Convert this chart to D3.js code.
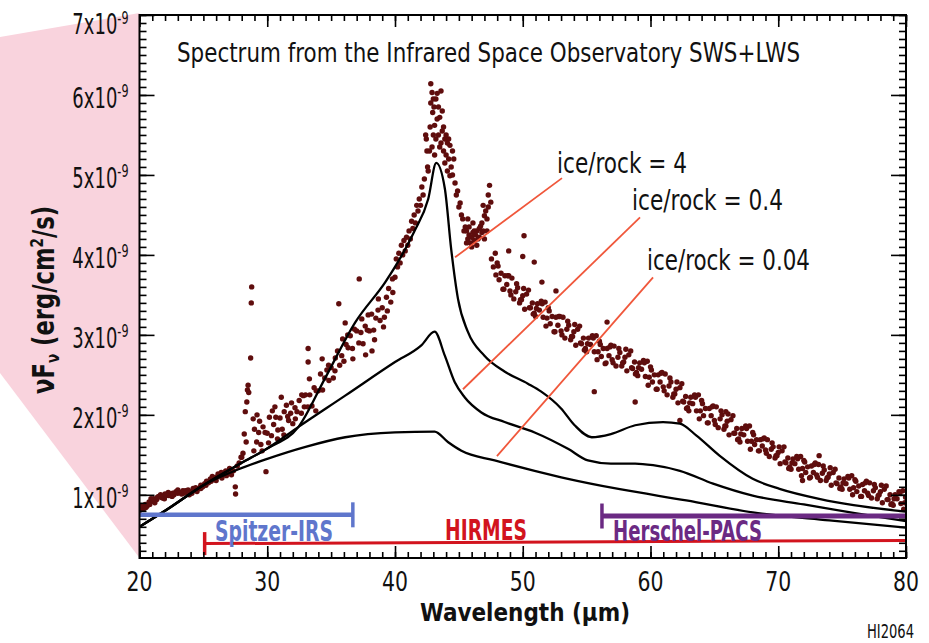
<!DOCTYPE html>
<html><head><meta charset="utf-8">
<script src="https://cdn.jsdelivr.net/npm/d3@7"></script>
<style>body{margin:0;background:#fff}</style>
</head><body>
<svg id="chart" width="929" height="643"></svg>
<script>
// ---------- DATA ----------
const xTickLabels = [20, 30, 40, 50, 60, 70, 80];
const yTickLabels = [1, 2, 3, 4, 5, 6, 7];           // x10^-9
const titleText = "Spectrum from the Infrared Space Observatory SWS+LWS";

// ISO SWS+LWS observed spectrum: [wavelength µm, nuFnu (1e-9 erg/cm2/s)]
const obsShort = [
[20.0,.80],[20.15,.84],[20.3,.82],[20.45,.88],[20.6,.86],[20.75,.91],[20.9,.95],[21.05,.92],[21.2,.90],[21.35,.94],[21.5,.98],[21.65,1.00],[21.8,.96],[21.95,.95],[22.1,.99],[22.25,1.03],[22.4,1.01],[22.55,.98],[22.7,1.00],[22.85,1.04],[23.0,1.06],[23.15,1.03],[23.3,1.01],[23.45,1.02],[23.6,1.05],[23.75,1.03],[23.9,1.00],[24.05,1.04],[24.2,1.08],[24.35,1.06],[24.5,1.04],[24.65,1.08],[24.8,1.12],[24.95,1.10],[25.1,1.14],[25.25,1.17],[25.4,1.15],[25.55,1.20],[25.7,1.23],[25.85,1.19],[26.0,1.22],[26.15,1.26],[26.3,1.24],[26.45,1.21],[26.6,1.27],[26.75,1.30],[26.9,1.27],[27.05,1.33],[27.2,1.25],[27.35,1.30],[27.5,1.10],[27.52,1.01],[27.65,1.36],[27.8,1.40],[27.95,1.47],[28.1,1.52],
[20.1,.86],[20.5,.84],[20.8,.88],[21.1,.95],[21.4,.97],[21.7,.97],[22.0,1.01],[22.3,.99],[22.6,1.02],[23.0,1.02],[23.4,1.05],[23.8,1.06],[24.1,1.02],[24.4,1.09],[24.8,1.08],[25.2,1.12],[25.6,1.17],[26.0,1.18],[26.4,1.28],[26.8,1.24],[27.1,1.29],
[28.0,1.47],[28.2,1.76],[28.28,2.04],[28.35,1.66],[28.4,2.16],[28.45,2.31],[28.5,2.37],[28.55,2.28],[28.7,2.71],[28.75,3.40],[28.78,3.60]
];
const obsRise = [
[29.0,1.82],[29.17,1.66],[29.33,1.78],[29.5,1.63],[29.67,1.85],[29.83,1.78],
[30.0,1.77],[30.17,1.97],[30.33,1.74],[30.5,1.88],[30.67,1.97],[30.83,1.81],
[31.0,1.96],[31.17,1.82],[31.33,2.04],[31.5,2.12],[31.67,1.93],[31.83,2.02],
[32.0,1.89],[32.17,2.09],[32.33,2.04],[32.5,2.18],[32.67,2.02],[32.83,2.24],
[28.9,1.95],[29.2,2.00],[29.6,1.55],[29.9,1.29],[30.1,1.65],[30.4,2.05],[30.8,1.70],[31.1,2.22],[31.3,1.75],[31.6,1.98],[31.9,2.15],[32.2,1.95],[32.7,2.25],[32.9,2.10],[29.4,1.92],[30.6,2.10],[28.95,1.55],
[33.0,2.25],[33.17,2.10],[33.33,2.25],[33.5,2.11],[33.67,2.34],[33.83,2.30],
[34.0,2.30],[34.17,2.51],[34.33,2.31],[34.5,2.46],[34.67,2.56],[34.83,2.43],
[35.0,2.59],[35.17,2.46],[35.33,2.71],[35.5,2.80],[35.67,2.62],[35.83,2.74],
[36.0,2.67],[36.17,2.88],[36.33,2.84],[36.5,2.99],[36.67,2.83],[36.83,3.07],
[37.0,3.05],[37.17,2.90],[37.33,3.03],[37.5,2.89],[37.67,3.11],[37.83,3.06],
[38.0,3.05],[38.17,3.26],[38.33,3.06],[38.5,3.21],[38.67,3.31],[38.83,3.18],
[39.0,3.34],[39.17,3.22],[39.33,3.47],[39.5,3.58],[39.67,3.41],[39.83,3.53],
[33.3,2.45],[33.2,2.66],[33.2,2.83],[34.3,2.70],[33.8,2.05],[34.8,2.62],[35.3,2.55],[35.6,3.39],[35.9,2.95],[36.3,3.00],[36.7,2.70],[37.2,3.70],[37.4,3.20],[37.9,3.25],[38.2,2.80],[38.4,2.94],[38.7,3.45],[39.1,3.10],[39.4,3.30],[39.8,3.70],[36.1,3.15],[37.7,2.75]
];
const obsPeak = [
[40.0,3.72],[40.1,3.95],[40.2,3.85],[40.3,4.02],[40.4,3.90],[40.5,4.12],[40.6,4.00],[40.7,4.18],[40.8,4.05],[40.9,4.22],[41.0,4.12],[41.1,4.30],[41.2,4.20],[41.3,4.42],[41.4,4.33],[41.5,4.50],[41.6,4.40],[41.7,4.62],[41.8,4.55],[41.9,4.70],[42.0,4.62],[42.1,4.85],[42.2,4.75],[42.3,4.95],[42.4,5.50],[42.45,5.45],[42.5,5.30],[42.55,5.10],
[42.6,5.05],[42.7,5.30],[42.75,5.60],[42.8,5.90],[42.8,6.14],[42.9,6.03],[42.95,5.78],[43.0,5.50],[43.05,5.85],[43.1,5.62],[43.2,5.95],[43.3,5.70],[43.4,5.50],[43.5,5.72],[43.6,6.05],[43.6,5.40],[43.7,5.55],[43.8,5.30],[43.9,5.45],[44.0,5.25],[44.1,5.40],[44.2,5.20],[44.3,5.37],[44.4,5.10],[44.5,5.00],[44.6,5.20],[44.7,4.90],[44.8,4.75],[44.9,4.80],[45.0,4.60],[45.1,4.65],[45.2,4.50],[45.3,4.45],[45.5,4.35],[45.6,4.30],[45.7,4.20],[45.8,4.25],[45.9,4.15],[46.0,4.22],[46.1,4.28],[46.2,4.18],[46.3,4.25],[46.4,4.30],[46.5,4.20],[46.6,4.33],[46.7,4.36],[46.8,4.40],[46.9,4.30],[47.0,4.49],[47.1,4.55],[47.2,4.45],[47.3,4.60],[47.4,4.87],[47.5,4.66],
[42.9,5.35],[43.0,5.95],[43.1,5.25],[43.2,5.45],[43.3,6.02],[43.4,5.85],[43.5,5.35],[43.7,5.80],[43.8,5.60],[43.9,5.15],[44.0,5.50],[44.1,5.05],[44.2,5.45],[44.3,4.99],[44.5,5.30],
[45.4,4.30],[45.6,4.15],[45.8,4.35],[46.0,4.10],[46.2,4.30],[46.4,4.12],[46.6,4.22],[46.8,4.28],[47.0,4.20],[47.2,4.30],[46.1,4.40],[45.7,4.45],[46.9,4.62],[47.3,4.75]
];
const obsTail = [
[47.55,3.95],[47.7,3.85],[47.85,4.02],[47.9,3.75],
[48.0,3.90],[48.15,3.69],[48.3,3.77],[48.45,3.57],[48.6,3.74],[48.75,3.63],[48.9,3.74],
[49.0,3.55],[49.15,3.71],[49.3,3.45],[49.45,3.54],[49.6,3.59],[49.75,3.40],[49.9,3.44],
[50.0,3.49],[50.15,3.32],[50.3,3.51],[50.45,3.56],[50.6,3.34],[50.75,3.40],[50.9,3.27],
[51.0,3.23],[51.15,3.39],[51.3,3.31],[51.45,3.42],[51.6,3.22],[51.75,3.41],[51.9,3.21],
[52.0,3.34],[52.15,3.14],[52.3,3.23],[52.45,3.04],[52.6,3.22],[52.75,3.12],[52.9,3.23],
[53.0,3.05],[53.15,3.22],[53.3,2.96],[53.45,3.07],[53.6,3.12],[53.75,2.94],[53.9,2.98],
[54.0,3.04],[54.15,2.87],[54.3,3.07],[54.45,3.11],[54.6,2.89],[54.75,2.96],[54.9,2.83],
[55.0,2.79],[55.15,2.96],[55.3,2.88],[55.45,2.99],[55.6,2.79],[55.75,2.99],[55.9,2.79],
[56.0,2.92],[56.15,2.73],[56.3,2.83],[56.45,2.64],[56.6,2.83],[56.75,2.74],[56.9,2.87],
[57.0,2.69],[57.15,2.86],[57.3,2.61],[57.45,2.72],[57.6,2.78],[57.75,2.61],[57.9,2.66],
[58.0,2.72],[58.15,2.55],[58.3,2.75],[58.45,2.80],[58.6,2.58],[58.75,2.66],[58.9,2.53],
[59.0,2.49],[59.15,2.65],[59.3,2.57],[59.45,2.68],[59.6,2.48],[59.75,2.67],[59.9,2.47],
[60.0,2.60],[60.15,2.41],[60.3,2.50],[60.45,2.32],[60.6,2.50],[60.75,2.41],[60.9,2.53],
[61.0,2.35],[61.15,2.51],[61.3,2.25],[61.45,2.36],[61.6,2.41],[61.75,2.22],[61.9,2.26],
[62.0,2.32],[62.15,2.15],[62.3,2.34],[62.45,2.39],[62.6,2.16],[62.75,2.23],[62.9,2.09],
[63.0,2.05],[63.15,2.22],[63.3,2.14],[63.45,2.25],[63.6,2.05],[63.75,2.25],[63.9,2.05],
[64.0,2.18],[64.15,1.99],[64.3,2.08],[64.45,1.90],[64.6,2.08],[64.75,1.99],[64.9,2.11],
[65.0,1.93],[65.15,2.10],[65.3,1.84],[65.45,1.95],[65.6,2.00],[65.75,1.82],[65.9,1.86],
[66.0,1.92],[66.15,1.75],[66.3,1.94],[66.45,1.99],[66.6,1.77],[66.75,1.83],[66.9,1.70],
[67.0,1.66],[67.15,1.83],[67.3,1.75],[67.45,1.86],[67.6,1.67],[67.75,1.86],[67.9,1.67],
[68.0,1.78],[68.15,1.63],[68.3,1.69],[68.45,1.55],[68.6,1.69],[68.75,1.61],[68.9,1.71],
[69.0,1.56],[69.15,1.69],[69.3,1.48],[69.45,1.57],[69.6,1.60],[69.75,1.46],[69.9,1.49],
[70.0,1.53],[70.15,1.39],[70.3,1.55],[70.45,1.60],[70.6,1.40],[70.75,1.46],[70.9,1.35],
[71.0,1.32],[71.15,1.45],[71.3,1.39],[71.45,1.48],[71.6,1.32],[71.75,1.48],[71.9,1.33],
[72.0,1.43],[72.15,1.28],[72.3,1.35],[72.45,1.21],[72.6,1.36],[72.75,1.28],[72.9,1.40],
[73.0,1.25],[73.15,1.38],[73.3,1.18],[73.45,1.27],[73.6,1.31],[73.75,1.18],[73.9,1.22],
[74.0,1.26],[74.15,1.12],[74.3,1.28],[74.45,1.32],[74.6,1.14],[74.75,1.21],[74.9,1.10],
[75.0,1.07],[75.15,1.20],[75.3,1.14],[75.45,1.23],[75.6,1.07],[75.75,1.24],[75.9,1.09],
[76.0,1.19],[76.15,1.04],[76.3,1.11],[76.45,0.98],[76.6,1.13],[76.75,1.05],[76.9,1.17],
[77.0,1.02],[77.15,1.15],[77.3,0.96],[77.45,1.05],[77.6,1.09],[77.75,0.95],[77.9,1.00],
[78.0,1.04],[78.15,0.90],[78.3,1.07],[78.45,1.11],[78.6,0.94],[78.75,1.00],[78.9,0.89],
[79.0,0.87],[79.15,1.00],[79.3,0.95],[79.45,1.04],[79.6,0.89],[79.75,1.05],[79.9,0.90],[79.97,0.97],
[48.07,3.86],[48.52,3.57],[48.82,3.74],[49.07,3.50],[49.52,3.64],[49.82,3.44],
[50.07,3.58],[50.52,3.34],[50.82,3.26],[51.07,3.33],[51.52,3.39],[51.82,3.11],
[52.07,3.30],[52.52,3.04],[52.82,3.23],[53.07,3.00],[53.52,3.17],[53.82,2.98],
[54.07,3.13],[54.52,2.90],[54.82,2.81],[55.07,2.89],[55.52,2.96],[55.82,2.69],
[56.07,2.88],[56.52,2.65],[56.82,2.85],[57.07,2.65],[57.52,2.83],[57.82,2.65],
[58.07,2.82],[58.52,2.59],[58.82,2.51],[59.07,2.59],[59.52,2.65],[59.82,2.37],
[60.07,2.56],[60.52,2.32],[60.82,2.52],[61.07,2.30],[61.52,2.46],[61.82,2.26],
[62.07,2.41],[62.52,2.17],[62.82,2.08],[63.07,2.15],[63.52,2.22],[63.82,1.95],
[64.07,2.14],[64.52,1.90],[64.82,2.10],[65.07,1.88],[65.52,2.05],[65.82,1.86],
[66.07,2.01],[66.52,1.77],[66.82,1.69],[67.07,1.76],[67.52,1.83],[67.82,1.57],
[68.07,1.75],[68.52,1.55],[68.82,1.70],[69.07,1.52],[69.52,1.65],[69.82,1.49],
[70.07,1.60],[70.52,1.41],[70.82,1.33],[71.07,1.40],[71.52,1.45],[71.82,1.24],
[72.07,1.41],[72.52,1.22],[72.82,1.38],[73.07,1.22],[73.52,1.36],[73.82,1.21],
[74.07,1.34],[74.52,1.15],[74.82,1.08],[75.07,1.15],[75.52,1.21],[75.82,1.00],
[76.07,1.17],[76.52,0.98],[76.82,1.15],[77.07,0.99],[77.52,1.13],[77.82,0.99],
[78.07,1.12],[78.52,0.94],[78.82,0.88],[79.07,0.95],[79.52,1.02],[79.82,0.82],
[50.1,4.24],[50.0,3.98],[50.9,3.91],[51.5,3.66],[56.6,3.16],[55.6,2.29],[58.8,2.16],[62.3,1.93],[65.9,2.04],[73.2,1.49],[71.9,1.18],[48.9,4.05],[52.6,3.55]
];

// Model spectra
const modelIceRock4 = [[20,0.60],[22,0.80],[25,1.12],[28,1.40],[30,1.58],[32.45,1.85],[34.5,2.45],[36.9,3.16],[39.24,3.66],[40,3.85],[41.5,4.29],[42.6,4.70],[43.23,5.15],[43.9,4.83],[44.4,4.07],[44.93,3.45],[45.7,3.04],[47,2.74],[48.6,2.54],[50.4,2.39],[51.45,2.29],[53,2.08],[54.06,1.87],[55.4,1.72],[56.9,1.76],[58.8,1.87],[60.98,1.91],[62.3,1.89],[63.6,1.74],[65.4,1.49],[68,1.20],[70.1,1.075],[73.2,0.95],[75.9,0.87],[80,0.79]];
const modelIceRock04 = [[20,0.60],[22,0.80],[25,1.12],[28,1.40],[30,1.58],[32.45,1.85],[36.1,2.24],[40,2.66],[42.06,2.87],[43.1,3.04],[43.9,2.74],[44.67,2.41],[45.45,2.22],[46.76,2.03],[48.58,1.91],[50.93,1.78],[53.54,1.575],[55.1,1.43],[56.9,1.39],[58.8,1.39],[60.2,1.37],[62.3,1.30],[64.9,1.14],[68,0.99],[72,0.88],[76,0.77],[80,0.67]];
const modelIceRock004 = [[20,0.60],[22,0.80],[25,1.12],[27.75,1.32],[30,1.45],[33,1.60],[36.1,1.72],[40,1.78],[43.1,1.79],[44.14,1.66],[45.2,1.55],[47.8,1.43],[50.93,1.30],[53.54,1.20],[57.6,1.07],[62.8,0.93],[68,0.78],[74,0.68],[80,0.59]];
const modelLabels = ["ice/rock = 4", "ice/rock = 0.4", "ice/rock = 0.04"];

// Instrument coverage
const instrumentNames = ["Spitzer-IRS", "HIRMES", "Herschel-PACS"];
const instrumentRanges = [[20, 36.7], [25.1, 80], [56.2, 80]];
const instrumentColors = ["#5f76cc", "#d2141e", "#6b2a83"];

// ---------- LAYOUT ----------
const svg = d3.select("#chart");
const L = 139.5, R = 906, T = 15, B = 558;
const x = d3.scaleLinear().domain([20, 80]).range([L, R]);
const y = d3.scaleLinear().domain([0.21, 7]).range([B, T]);
const COND = "'Liberation Sans Narrow','DejaVu Sans Condensed','Roboto Condensed','Arial Narrow','DejaVu Sans',sans-serif";

const defs = svg.append("defs");
defs.append("clipPath").attr("id", "plotclip").append("rect")
  .attr("x", L).attr("y", T).attr("width", R - L).attr("height", B - T);
defs.append("filter").attr("id", "soft").attr("x", "-10%").attr("y", "-10%").attr("width", "120%").attr("height", "120%")
  .append("feGaussianBlur").attr("stdDeviation", 0.6);

// pink zoom-callout wedge
svg.append("polygon").attr("points", [[0, 37], [L, 13], [L, B], [0, 373]].map(p => p.join(",")).join(" "))
  .attr("fill", "#f9d3dd");
svg.append("rect").attr("x", L).attr("y", T).attr("width", R - L).attr("height", B - T).attr("fill", "#fff");

const plot = svg.append("g").attr("clip-path", "url(#plotclip)");

// observed data points
const obs = [...obsShort, ...obsRise, ...obsPeak, ...obsTail];
plot.append("g").attr("filter", "url(#soft)")
  .selectAll("circle").data(obs).join("circle")
  .attr("cx", d => x(d[0])).attr("cy", d => y(d[1])).attr("r", 2.7)
  .attr("fill", "#5e0b0b");

// model curves
const line = d3.line().x(d => x(d[0])).y(d => y(d[1])).curve(d3.curveMonotoneX);
[modelIceRock4, modelIceRock04, modelIceRock004].forEach(m => {
  plot.append("path").datum(m).attr("d", line).attr("fill", "none")
    .attr("stroke", "#000").attr("stroke-width", 2.3).attr("stroke-linejoin", "round");
});

// leader lines + labels
const leaders = [
  {from: [44.7, 3.97], to: [53.07, 4.96], tx: 557, ty: 173, w: 130},
  {from: [45.32, 2.32], to: [59.18, 4.47], tx: 632, ty: 210, w: 151},
  {from: [47.98, 1.485], to: [60.2, 3.72], tx: 647, ty: 270, w: 163}
];
leaders.forEach((l, i) => {
  svg.append("line").attr("x1", x(l.from[0])).attr("y1", y(l.from[1]))
    .attr("x2", x(l.to[0])).attr("y2", y(l.to[1]))
    .attr("stroke", "#f0573b").attr("stroke-width", 1.8);
  svg.append("text").attr("x", l.tx).attr("y", l.ty).text(modelLabels[i])
    .attr("font-family", COND).attr("font-size", 29).attr("fill", "#111")
    .attr("textLength", l.w).attr("lengthAdjust", "spacingAndGlyphs");
});

// instrument bars
const barLevels = [[0.75, 0.75], [0.39, 0.43], [0.735, 0.735]];
const barWidths = [4.5, 3, 5];
const capHalf = [12.5, 11.5, 12.5];
instrumentRanges.forEach((r, i) => {
  const g = svg.append("g").attr("stroke", instrumentColors[i]);
  g.append("line").attr("x1", x(r[0])).attr("x2", x(r[1]))
    .attr("y1", y(barLevels[i][0])).attr("y2", y(barLevels[i][1]))
    .attr("stroke-width", barWidths[i]);
  const capX = i === 0 ? x(r[1]) : x(r[0]);
  const capY = i === 0 ? y(barLevels[i][1]) : y(barLevels[i][0]);
  g.append("line").attr("x1", capX).attr("x2", capX)
    .attr("y1", capY - capHalf[i]).attr("y2", capY + capHalf[i]).attr("stroke-width", 3.5);
});
const instLabelPos = [[215, 541, 118], [445, 540, 82], [613, 541, 149]];
instrumentNames.forEach((n, i) => {
  svg.append("text").attr("x", instLabelPos[i][0]).attr("y", instLabelPos[i][1]).text(n)
    .attr("font-family", COND).attr("font-weight", "bold").attr("font-size", 28)
    .attr("fill", instrumentColors[i])
    .attr("textLength", instLabelPos[i][2]).attr("lengthAdjust", "spacingAndGlyphs");
});

// ---------- AXES ----------
function styleAxis(g) {
  g.select(".domain").remove();
  g.selectAll("line").attr("stroke", "#000").attr("stroke-width", 1.6);
  g.selectAll("text").remove();
}
const xMinor = d3.range(20, 81, 1), yMinor = d3.range(3, 71, 1).map(v => v / 10);
svg.append("g").attr("transform", `translate(0,${B})`).call(d3.axisBottom(x).tickValues(xMinor).tickSize(-6)).call(styleAxis);
svg.append("g").attr("transform", `translate(0,${B})`).call(d3.axisBottom(x).tickValues(xTickLabels).tickSize(-12)).call(styleAxis);
svg.append("g").attr("transform", `translate(0,${T})`).call(d3.axisTop(x).tickValues(xMinor).tickSize(-6)).call(styleAxis);
svg.append("g").attr("transform", `translate(0,${T})`).call(d3.axisTop(x).tickValues(xTickLabels).tickSize(-12)).call(styleAxis);
svg.append("g").attr("transform", `translate(${L},0)`).call(d3.axisLeft(y).tickValues(yMinor).tickSize(-7)).call(styleAxis);
svg.append("g").attr("transform", `translate(${L},0)`).call(d3.axisLeft(y).tickValues(yTickLabels).tickSize(-15)).call(styleAxis);
svg.append("g").attr("transform", `translate(${R},0)`).call(d3.axisRight(y).tickValues(yMinor).tickSize(-7)).call(styleAxis);
svg.append("g").attr("transform", `translate(${R},0)`).call(d3.axisRight(y).tickValues(yTickLabels).tickSize(-15)).call(styleAxis);

svg.append("rect").attr("x", L).attr("y", T).attr("width", R - L).attr("height", B - T)
  .attr("fill", "none").attr("stroke", "#000").attr("stroke-width", 2);

// tick labels
xTickLabels.forEach(v => {
  svg.append("text").attr("x", x(v)).attr("y", 591).attr("text-anchor", "middle").text(v)
    .attr("font-family", COND).attr("font-size", 27).attr("fill", "#111")
    .attr("textLength", 26).attr("lengthAdjust", "spacingAndGlyphs");
});
yTickLabels.forEach(v => {
  const base = v === 7 ? 34 : y(v) + 13;
  const t = svg.append("text").attr("transform", `translate(128.5,${base}) scale(0.69,1)`)
    .attr("text-anchor", "end").attr("font-family", COND).attr("font-size", 29).attr("fill", "#111");
  t.append("tspan").text(v + "x10");
  t.append("tspan").attr("font-size", 18).attr("dy", -10.5).text("-9");
});

// titles
svg.append("text").attr("x", 177).attr("y", 62).text(titleText)
  .attr("font-family", COND).attr("font-size", 26).attr("fill", "#111")
  .attr("textLength", 623).attr("lengthAdjust", "spacingAndGlyphs");
svg.append("text").attr("x", 525).attr("y", 621).attr("text-anchor", "middle").text("Wavelength (µm)")
  .attr("font-family", COND).attr("font-weight", "bold").attr("font-size", 25).attr("fill", "#111")
  .attr("textLength", 210).attr("lengthAdjust", "spacingAndGlyphs");
const yt = svg.append("text").attr("transform", "translate(54,394) rotate(-90) scale(0.84,1)")
  .attr("font-family", COND).attr("font-weight", "bold").attr("font-size", 30).attr("fill", "#111");
yt.append("tspan").text("νF");
yt.append("tspan").attr("font-size", 18).attr("dy", 5).text("ν");
yt.append("tspan").attr("dy", -5).text(" (erg/cm");
yt.append("tspan").attr("font-size", 18).attr("dy", -11).text("2");
yt.append("tspan").attr("dy", 11).text("/s)");
svg.append("text").attr("x", 867).attr("y", 638).text("HI2064")
  .attr("font-family", COND).attr("font-size", 19).attr("fill", "#111")
  .attr("textLength", 47).attr("lengthAdjust", "spacingAndGlyphs");
</script>
</body></html>
